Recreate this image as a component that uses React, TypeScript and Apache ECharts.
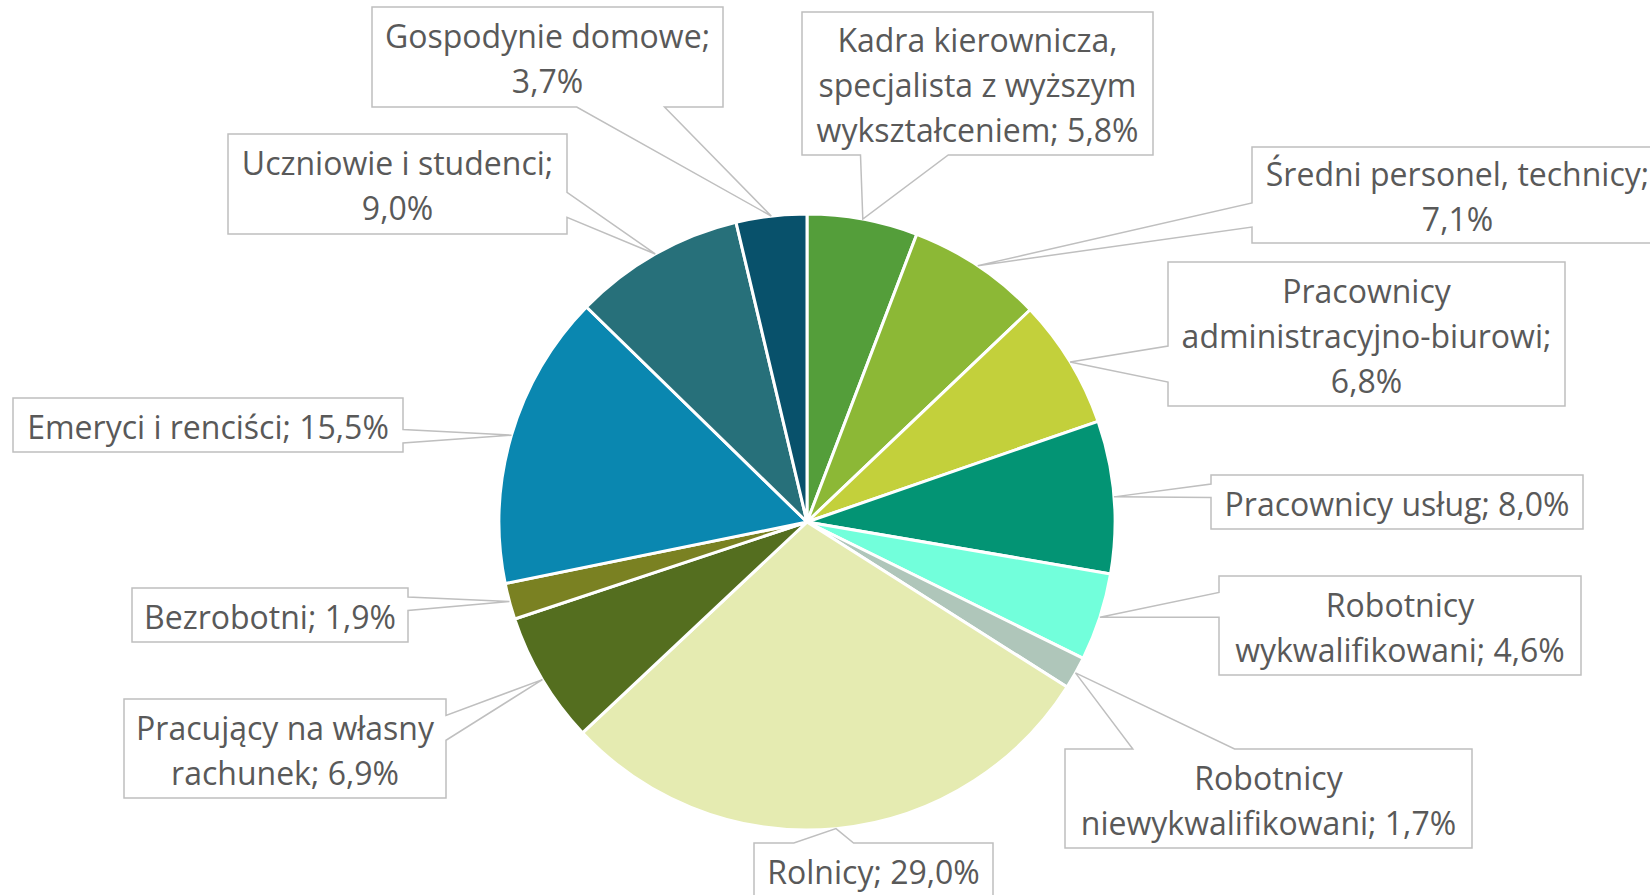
import React, { useEffect, useRef } from "react";
import * as echarts from "echarts";

// ---- data (clockwise from 12 o'clock) ----
const categories = [
  "Kadra kierownicza, specjalista z wyższym wykształceniem",
  "Średni personel, technicy",
  "Pracownicy administracyjno-biurowi",
  "Pracownicy usług",
  "Robotnicy wykwalifikowani",
  "Robotnicy niewykwalifikowani",
  "Rolnicy",
  "Pracujący na własny rachunek",
  "Bezrobotni",
  "Emeryci i renciści",
  "Uczniowie i studenci",
  "Gospodynie domowe",
];
const values = [5.8, 7.1, 6.8, 8.0, 4.6, 1.7, 29.0, 6.9, 1.9, 15.5, 9.0, 3.7];
const colors = [
  "#549E3A", "#8CB836", "#C3D03B", "#039474", "#72FFDB", "#AFC6BA",
  "#E5EBB1", "#546E1F", "#7A8122", "#0A87B0", "#27707A", "#08516B",
];
// label wrapping as in the reference
const labelNames = [
  "Kadra kierownicza,\nspecjalista z wyższym\nwykształceniem",
  "Średni personel, technicy",
  "Pracownicy\nadministracyjno-biurowi",
  "Pracownicy usług",
  "Robotnicy\nwykwalifikowani",
  "Robotnicy\nniewykwalifikowani",
  "Rolnicy",
  "Pracujący na własny\nrachunek",
  "Bezrobotni",
  "Emeryci i renciści",
  "Uczniowie i studenci",
  "Gospodynie domowe",
];
const breakBeforeValue = [false, true, true, false, false, false, false, false, false, false, true, true];

// ---- layout ----
const W = 1650;
const H = 895;
const CX = 807;
const CY = 522;
const R = 308;
// label boxes: [x, y, w, h]
const boxes: number[][] = [
  [802, 12, 351, 143],
  [1252, 147, 411, 96],
  [1168, 262, 397, 144],
  [1211, 475, 372, 54],
  [1219, 576, 362, 99],
  [1065, 749, 407, 99],
  [754, 843, 239, 54],
  [124, 699, 322, 99],
  [132, 588, 276, 54],
  [13, 398, 390, 54],
  [228, 134, 339, 100],
  [372, 7, 351, 100],
];

const fmt = (v: number) => v.toFixed(1).replace(".", ",") + "%";

function calloutPoints(box: number[], tip: number[]) {
  const [x, y, w, h] = box;
  const cx = x + w / 2;
  const cy = y + h / 2;
  const dx = tip[0] - cx;
  const dy = tip[1] - cy;
  const a = 2 / 12, b = 5 / 12, c = 7 / 12, d = 10 / 12;
  const pts: number[][] = [];
  const horiz = Math.abs(dx) / w > Math.abs(dy) / h;
  pts.push([x, y]);
  if (!horiz && dy < 0) {
    const [f1, f2] = dx < 0 ? [a, b] : [c, d];
    pts.push([x + f1 * w, y], tip, [x + f2 * w, y]);
  }
  pts.push([x + w, y]);
  if (horiz && dx > 0) {
    const [f1, f2] = dy < 0 ? [a, b] : [c, d];
    pts.push([x + w, y + f1 * h], tip, [x + w, y + f2 * h]);
  }
  pts.push([x + w, y + h]);
  if (!horiz && dy >= 0) {
    const [f1, f2] = dx < 0 ? [a, b] : [c, d];
    pts.push([x + f2 * w, y + h], tip, [x + f1 * w, y + h]);
  }
  pts.push([x, y + h]);
  if (horiz && dx <= 0) {
    const [f1, f2] = dy < 0 ? [a, b] : [c, d];
    pts.push([x, y + f2 * h], tip, [x, y + f1 * h]);
  }
  return pts;
}

export default function App() {
  const ref = useRef<HTMLDivElement>(null);
  useEffect(() => {
    if (!ref.current) return;
    const chart = echarts.init(ref.current, undefined, { renderer: "svg" });
    const total = values.reduce((s, v) => s + v, 0);
    let cum = 0;
    const elements: any[] = [];
    values.forEach((v, i) => {
      const frac = (cum + v / 2) / total;
      cum += v;
      const th = frac * Math.PI * 2;
      const tip = [CX + R * Math.sin(th), CY - R * Math.cos(th)];
      const box = boxes[i];
      elements.push({
        type: "polygon",
        z: 100,
        shape: { points: calloutPoints(box, tip) },
        style: { fill: "#ffffff", stroke: "#BFBFBF", lineWidth: 1.5 },
        silent: true,
      });
      const text = labelNames[i] + ";" + (breakBeforeValue[i] ? "\n" : " ") + fmt(v);
      elements.push({
        type: "text",
        z: 101,
        x: box[0] + box[2] / 2,
        y: box[1] + box[3] / 2 + 1,
        silent: true,
        style: {
          text,
          fill: "#595959",
          fontFamily: "'Open Sans', sans-serif",
          fontSize: 32,
          lineHeight: 45,
          align: "center",
          verticalAlign: "middle",
        },
      });
    });
    chart.setOption({
      animation: false,
      backgroundColor: "#ffffff",
      series: [
        {
          type: "pie",
          center: [CX, CY],
          radius: R,
          startAngle: 90,
          clockwise: true,
          silent: true,
          label: { show: false },
          labelLine: { show: false },
          itemStyle: { borderColor: "#ffffff", borderWidth: 3 },
          data: categories.map((name, i) => ({
            name,
            value: values[i],
            itemStyle: { color: colors[i] },
          })),
        },
      ],
      graphic: { elements },
    });
    return () => chart.dispose();
  }, []);
  return (
    <div
      ref={ref}
      style={{ position: "absolute", left: 0, top: 0, width: W, height: H }}
    />
  );
}
